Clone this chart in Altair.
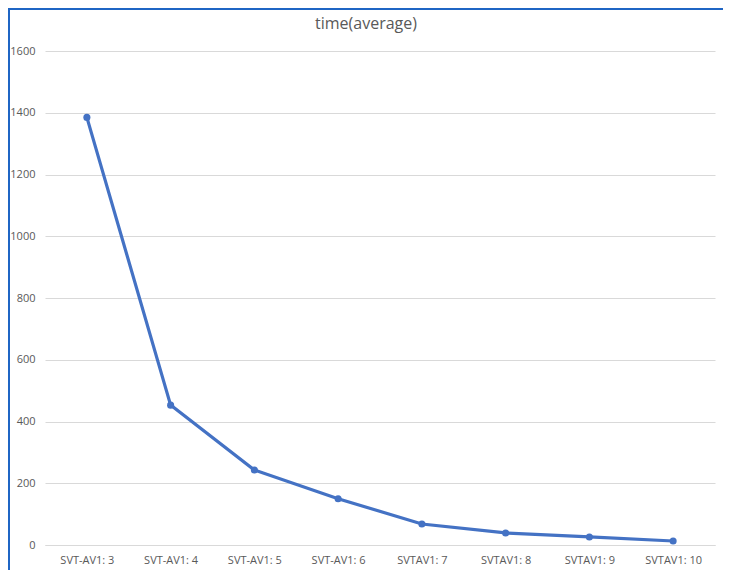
import pandas as pd
import altair as alt

# presets and average time
presets = ["SVT-AV1: 3", "SVT-AV1: 4", "SVT-AV1: 5", "SVT-AV1: 6",
           "SVTAV1: 7", "SVTAV1: 8", "SVTAV1: 9", "SVTAV1: 10"]
avg_time = [1385, 453, 243, 150, 68, 39, 26, 13]
y_ticks = [0, 200, 400, 600, 800, 1000, 1200, 1400, 1600]

df = pd.DataFrame({"preset": presets, "time": avg_time})

grey = "#595959"
blue = "#4472C4"

base = alt.Chart(df).encode(
    x=alt.X("preset:N", sort=presets, title=None,
            scale=alt.Scale(type="point", padding=0.5),
            axis=alt.Axis(labelAngle=0, ticks=False, domainColor="#D9D9D9",
                          labelPadding=9, labelColor=grey, labelFontSize=11,
                          labelFont="Open Sans")),
    y=alt.Y("time:Q", title=None,
            scale=alt.Scale(domain=[0, 1600], nice=False),
            axis=alt.Axis(values=y_ticks, format="d", ticks=False, domain=False,
                          gridColor="#D9D9D9", labelPadding=10,
                          labelColor=grey, labelFontSize=11,
                          labelFont="Open Sans")),
)

line = base.mark_line(color=blue, strokeWidth=3.2)
dots = base.mark_circle(color=blue, size=50, opacity=1)

# thin blue frame around the whole figure
frame = alt.Chart(pd.DataFrame({"a": [0]})).mark_rect(
    fill=None, stroke="#1F65C4", strokeWidth=2
).encode(
    x=alt.value(-36), x2=alt.value(706),
    y=alt.value(-42), y2=alt.value(560)
)

# the frame widens the view bounds, so the title is pulled back down with dy
chart = alt.layer(frame, line, dots).properties(
    width=670,
    height=494,
    padding={"left": 37, "top": 43, "right": 8, "bottom": 25},
    autosize=alt.AutoSizeParams(type="none"),
    title=alt.TitleParams("time(average)", fontSize=16, font="Open Sans",
                          fontWeight="normal", color=grey, frame="group",
                          offset=18, dy=42, dx=-14),
).configure_view(stroke=None)

chart.save("out.html", embed_options={"renderer": "svg", "actions": False})
